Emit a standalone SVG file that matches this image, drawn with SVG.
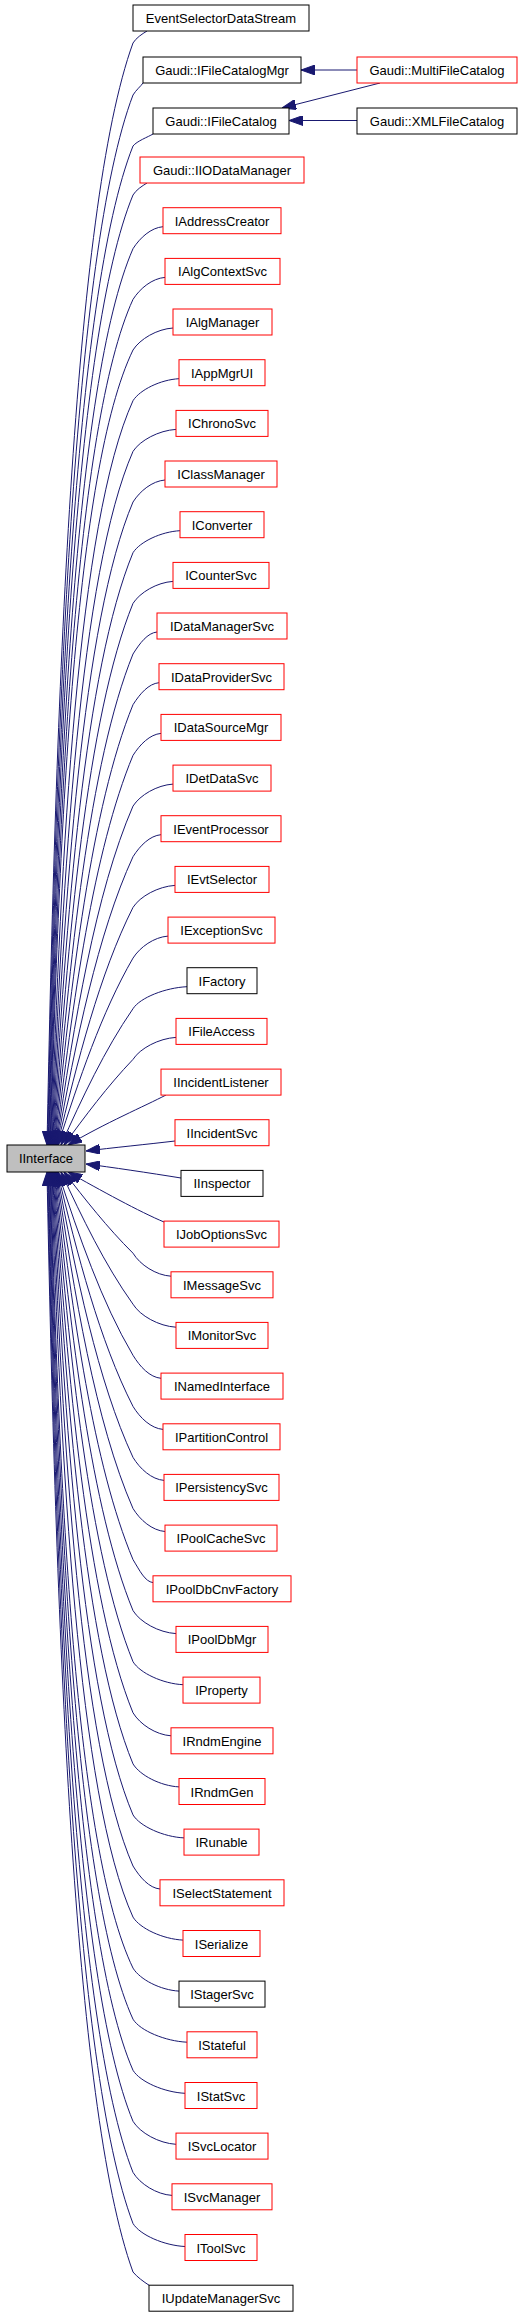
<svg xmlns="http://www.w3.org/2000/svg" width="522" height="2317" viewBox="0 0 522 2317">
<style>
rect{stroke-width:1}
.r{fill:#fff;stroke:#ff0000}
.b{fill:#fff;stroke:#000}
.g{fill:#bfbfbf;stroke:#000}
text{font-family:"Liberation Sans",Arial,sans-serif;font-size:13px;fill:#000;text-anchor:middle}
#edges path{fill:none;stroke:#191970;stroke-width:1;marker-end:url(#arr)}
</style>
<defs>
<marker id="arr" markerWidth="14" markerHeight="10" refX="14" refY="5" orient="auto" markerUnits="userSpaceOnUse">
<path d="M0,0 L14,5 L0,10 z" fill="#191970" stroke="#191970" stroke-width="1"/>
</marker>
</defs>
<rect width="522" height="2317" fill="#fff"/>
<g id="edges">
<path d="M357,70 L301,70"/>
<path d="M380,83 L282,108"/>
<path d="M357,120.5 L289,120.5"/>
<path d="M147,31 C142,34 136,38 133,43 C72.8,208.3 55.6,704.2 47,1145"/>
<path d="M143,83 C141,86 136,90 133,95 C73.2,252.5 56.1,725 47.6,1145"/>
<path d="M153,134 C148,137 137,141 133,146 C73.6,295.9 56.7,745.4 48.2,1145"/>
<path d="M147,183 C142,186 136,190 133,195 C74.1,337.5 57.2,765 48.8,1145"/>
<path d="M163,226.7 C151,227.7 140,237.7 133,248.7 C74.5,383.1 57.8,786.5 49.4,1145"/>
<path d="M165,277.4 C152.2,278.4 140,288.4 133,299.4 C75,426.2 58.4,806.8 50.1,1145"/>
<path d="M173,328 C157,329 140,339 133,350 C75.4,469.3 58.9,827 50.7,1145"/>
<path d="M179,378.7 C160.6,379.7 140,389.7 133,400.7 C77.9,522 60.8,850.8 51.3,1145"/>
<path d="M176,429.4 C158.8,430.4 140,440.4 133,451.4 C80.2,572.1 62.5,873.8 51.9,1145"/>
<path d="M165,480 C152.2,481 140,491 133,502 C82.4,621.6 64.2,896.2 52.5,1145"/>
<path d="M180,530.7 C161.2,531.7 140,541.7 133,552.7 C84.7,669.9 65.9,918.2 53.1,1145"/>
<path d="M173,581.4 C157,582.4 140,592.4 133,603.4 C86.9,716.6 67.6,939.8 53.7,1145"/>
<path d="M157,632 C147.4,633 140,643 133,654 C89.1,762.5 69.3,961.3 54.3,1145"/>
<path d="M159,682.7 C148.6,683.7 140,693.7 133,704.7 C91.2,807.1 70.9,982.1 54.9,1145"/>
<path d="M161,733.4 C149.8,734.4 140,744.4 133,755.4 C93.4,850.5 72.6,1002.4 55.6,1145"/>
<path d="M173,784.1 C157,785.1 140,795.1 133,806.1 C95.4,892.9 74.2,1022.3 56.2,1145"/>
<path d="M161,834.7 C149.8,835.7 140,845.7 133,856.7 C97.6,933.7 75.8,1042 56.8,1145"/>
<path d="M175,885.4 C158.2,886.4 140,896.4 133,907.4 C99.6,973.7 77.4,1061.1 57.4,1145"/>
<path d="M168,936.1 C154,937.1 140,947.1 133,958.1 C101.6,1012.3 78.9,1079.8 58,1145"/>
<path d="M187,986.7 C165.4,987.7 140,997.7 133,1008.7 C104.5,1049.9 82.2,1098 61,1145"/>
<path d="M176,1037.4 C158.8,1038.4 140,1048.4 133,1059.4 C107.3,1086.3 85.3,1115.9 64,1145"/>
<path d="M166,1095 C145,1106 105,1123 68,1145"/>
<path d="M175,1141 C150,1144 110,1148 86,1151"/>
<path d="M181,1178 C150,1173 110,1167 86,1164"/>
<path d="M164,1222 C140,1212 100,1190 68,1172"/>
<path d="M171,1276.2 C155.8,1275.2 140,1264.7 133,1253.2 C107.3,1227.7 85.3,1199.6 64,1172"/>
<path d="M176,1327.2 C158.8,1326.2 140,1315.7 133,1304.2 C104.5,1264.3 82.2,1217.6 61,1172"/>
<path d="M161,1378.3 C149.8,1377.3 140,1366.8 133,1355.3 C101.6,1302.1 78.9,1236 58,1172"/>
<path d="M163,1429.4 C151,1428.4 140,1417.9 133,1406.4 C99.6,1341 77.4,1254.7 57.4,1172"/>
<path d="M164,1480.4 C151.6,1479.4 140,1468.9 133,1457.4 C97.6,1381.2 75.8,1273.9 56.8,1172"/>
<path d="M165,1531.5 C152.2,1530.5 140,1520 133,1508.5 C95.4,1422.4 74.2,1293.8 56.2,1172"/>
<path d="M153,1582.6 C145,1581.6 140,1571.1 133,1559.6 C93.4,1465 72.6,1313.9 55.6,1172"/>
<path d="M176,1633.6 C158.8,1632.6 140,1622.1 133,1610.6 C91.2,1508.6 70.9,1334.3 54.9,1172"/>
<path d="M183,1684.7 C163,1683.7 140,1673.2 133,1661.7 C89.1,1553.5 69.3,1355.1 54.3,1172"/>
<path d="M171,1735.8 C155.8,1734.8 140,1724.3 133,1712.8 C86.9,1599.8 67.6,1377 53.7,1172"/>
<path d="M179,1786.9 C160.6,1785.9 140,1775.4 133,1763.9 C84.7,1646.7 65.9,1398.7 53.1,1172"/>
<path d="M184,1837.9 C163.6,1836.9 140,1826.4 133,1814.9 C82.4,1695.3 64.2,1420.8 52.5,1172"/>
<path d="M160,1889 C149.2,1888 140,1877.5 133,1866 C80.2,1745.2 62.5,1443.4 51.9,1172"/>
<path d="M183,1940.1 C163,1939.1 140,1928.6 133,1917.1 C77.9,1795.6 60.8,1466.3 51.3,1172"/>
<path d="M179,1991.1 C160.6,1990.1 140,1979.6 133,1968.1 C75.4,1848.7 58.9,1490.4 50.7,1172"/>
<path d="M187,2042.2 C165.4,2041.2 140,2030.7 133,2019.2 C75,1892.1 58.4,1510.9 50.1,1172"/>
<path d="M185,2093.3 C164.2,2092.3 140,2081.8 133,2070.3 C74.5,1935.6 57.8,1531.3 49.4,1172"/>
<path d="M176,2144.3 C158.8,2143.3 140,2132.8 133,2121.3 C74.1,1978.9 57.2,1551.7 48.8,1172"/>
<path d="M172,2195.4 C156.4,2194.4 140,2183.9 133,2172.4 C73.6,2022.3 56.7,1572.2 48.2,1172"/>
<path d="M185,2246.5 C164.2,2245.5 140,2235 133,2223.5 C73.2,2065.8 56.1,1592.6 47.6,1172"/>
<path d="M149,2285.2 C144,2282 137,2277 133,2272 C72.8,2107 55.6,1612 47,1172"/>
</g>
<g id="IInterface"><rect class="g" x="7" y="1145" width="78" height="27"/><text x="46" y="1163">IInterface</text></g>
<g id="MultiFileCatalog"><rect class="r" x="357" y="57" width="160" height="26"/><text x="437" y="75">Gaudi::MultiFileCatalog</text></g>
<g id="XMLFileCatalog"><rect class="b" x="357" y="108" width="160" height="26"/><text x="437" y="126">Gaudi::XMLFileCatalog</text></g>
<g id="n0"><rect class="b" x="133" y="5" width="176" height="26"/><text x="221" y="23">EventSelectorDataStream</text></g>
<g id="n1"><rect class="b" x="143" y="57" width="158" height="26"/><text x="222" y="75">Gaudi::IFileCatalogMgr</text></g>
<g id="n2"><rect class="b" x="153" y="108" width="136" height="26"/><text x="221" y="126">Gaudi::IFileCatalog</text></g>
<g id="n3"><rect class="r" x="140" y="157" width="164" height="26"/><text x="222" y="175">Gaudi::IIODataManager</text></g>
<g id="n4"><rect class="r" x="163" y="207.7" width="118" height="26"/><text x="222" y="225.7">IAddressCreator</text></g>
<g id="n5"><rect class="r" x="165" y="258.4" width="115" height="26"/><text x="222.5" y="276.4">IAlgContextSvc</text></g>
<g id="n6"><rect class="r" x="173" y="309" width="99" height="26"/><text x="222.5" y="327">IAlgManager</text></g>
<g id="n7"><rect class="r" x="179" y="359.7" width="86" height="26"/><text x="222" y="377.7">IAppMgrUI</text></g>
<g id="n8"><rect class="r" x="176" y="410.4" width="92" height="26"/><text x="222" y="428.4">IChronoSvc</text></g>
<g id="n9"><rect class="r" x="165" y="461" width="112" height="26"/><text x="221" y="479">IClassManager</text></g>
<g id="n10"><rect class="r" x="180" y="511.7" width="84" height="26"/><text x="222" y="529.7">IConverter</text></g>
<g id="n11"><rect class="r" x="173" y="562.4" width="96" height="26"/><text x="221" y="580.4">ICounterSvc</text></g>
<g id="n12"><rect class="r" x="157" y="613" width="130" height="26"/><text x="222" y="631">IDataManagerSvc</text></g>
<g id="n13"><rect class="r" x="159" y="663.7" width="125" height="26"/><text x="221.5" y="681.7">IDataProviderSvc</text></g>
<g id="n14"><rect class="r" x="161" y="714.4" width="120" height="26"/><text x="221" y="732.4">IDataSourceMgr</text></g>
<g id="n15"><rect class="r" x="173" y="765.1" width="98" height="26"/><text x="222" y="783.1">IDetDataSvc</text></g>
<g id="n16"><rect class="r" x="161" y="815.7" width="120" height="26"/><text x="221" y="833.7">IEventProcessor</text></g>
<g id="n17"><rect class="r" x="175" y="866.4" width="94" height="26"/><text x="222" y="884.4">IEvtSelector</text></g>
<g id="n18"><rect class="r" x="168" y="917.1" width="107" height="26"/><text x="221.5" y="935.1">IExceptionSvc</text></g>
<g id="n19"><rect class="b" x="187" y="967.7" width="70" height="26"/><text x="222" y="985.7">IFactory</text></g>
<g id="n20"><rect class="r" x="176" y="1018.4" width="91" height="26"/><text x="221.5" y="1036.4">IFileAccess</text></g>
<g id="n21"><rect class="r" x="161" y="1069.1" width="120" height="26"/><text x="221" y="1087.1">IIncidentListener</text></g>
<g id="n22"><rect class="r" x="175" y="1119.7" width="94" height="26"/><text x="222" y="1137.7">IIncidentSvc</text></g>
<g id="n23"><rect class="b" x="181" y="1170.4" width="82" height="26"/><text x="222" y="1188.4">IInspector</text></g>
<g id="n24"><rect class="r" x="164" y="1221.1" width="115" height="26"/><text x="221.5" y="1239.1">IJobOptionsSvc</text></g>
<g id="n25"><rect class="r" x="171" y="1271.8" width="102" height="26"/><text x="222" y="1289.8">IMessageSvc</text></g>
<g id="n26"><rect class="r" x="176" y="1322.4" width="92" height="26"/><text x="222" y="1340.4">IMonitorSvc</text></g>
<g id="n27"><rect class="r" x="161" y="1373.1" width="122" height="26"/><text x="222" y="1391.1">INamedInterface</text></g>
<g id="n28"><rect class="r" x="163" y="1423.8" width="117" height="26"/><text x="221.5" y="1441.8">IPartitionControl</text></g>
<g id="n29"><rect class="r" x="164" y="1474.4" width="115" height="26"/><text x="221.5" y="1492.4">IPersistencySvc</text></g>
<g id="n30"><rect class="r" x="165" y="1525.1" width="112" height="26"/><text x="221" y="1543.1">IPoolCacheSvc</text></g>
<g id="n31"><rect class="r" x="153" y="1575.8" width="138" height="26"/><text x="222" y="1593.8">IPoolDbCnvFactory</text></g>
<g id="n32"><rect class="r" x="176" y="1626.4" width="92" height="26"/><text x="222" y="1644.4">IPoolDbMgr</text></g>
<g id="n33"><rect class="r" x="183" y="1677.1" width="77" height="26"/><text x="221.5" y="1695.1">IProperty</text></g>
<g id="n34"><rect class="r" x="171" y="1727.8" width="102" height="26"/><text x="222" y="1745.8">IRndmEngine</text></g>
<g id="n35"><rect class="r" x="179" y="1778.5" width="86" height="26"/><text x="222" y="1796.5">IRndmGen</text></g>
<g id="n36"><rect class="r" x="184" y="1829.1" width="75" height="26"/><text x="221.5" y="1847.1">IRunable</text></g>
<g id="n37"><rect class="r" x="160" y="1879.8" width="124" height="26"/><text x="222" y="1897.8">ISelectStatement</text></g>
<g id="n38"><rect class="r" x="183" y="1930.5" width="77" height="26"/><text x="221.5" y="1948.5">ISerialize</text></g>
<g id="n39"><rect class="b" x="179" y="1981.1" width="86" height="26"/><text x="222" y="1999.1">IStagerSvc</text></g>
<g id="n40"><rect class="r" x="187" y="2031.8" width="70" height="26"/><text x="222" y="2049.8">IStateful</text></g>
<g id="n41"><rect class="r" x="185" y="2082.5" width="72" height="26"/><text x="221" y="2100.5">IStatSvc</text></g>
<g id="n42"><rect class="r" x="176" y="2133.1" width="92" height="26"/><text x="222" y="2151.1">ISvcLocator</text></g>
<g id="n43"><rect class="r" x="172" y="2183.8" width="100" height="26"/><text x="222" y="2201.8">ISvcManager</text></g>
<g id="n44"><rect class="r" x="185" y="2234.5" width="72" height="26"/><text x="221" y="2252.5">IToolSvc</text></g>
<g id="n45"><rect class="b" x="149" y="2285.2" width="144" height="26"/><text x="221" y="2303.2">IUpdateManagerSvc</text></g>
</svg>
